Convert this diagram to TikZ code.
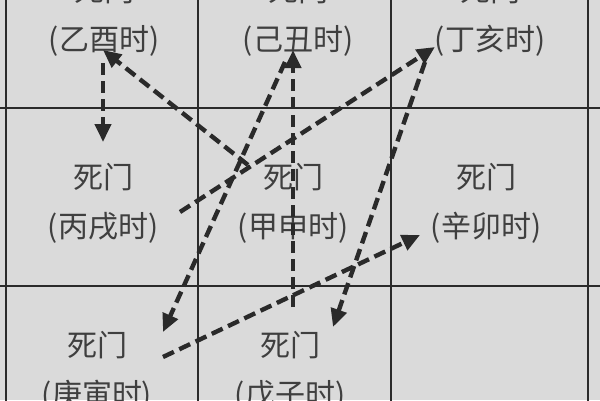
\documentclass[tikz,border=0pt]{standalone}
\usepackage{fontspec}
\newfontfamily\cjk{Noto Sans CJK SC}
\usetikzlibrary{arrows.meta}
\definecolor{paper}{HTML}{DADADA}
\definecolor{ink}{HTML}{2A2A2A}
\tikzset{gridline/.style={ink, line width=1.7pt},
 move/.style={ink, line width=4.4pt, dash pattern=on 12pt off 6pt, -{Triangle[length=18pt,width=16pt]}},
 every node/.style={text=ink!90, font=\cjk\fontsize{30}{49}\selectfont, align=center, inner sep=0pt}}

\begin{document}
\begin{tikzpicture}[x=1pt,y=-1pt]
  \fill[paper] (0,0) rectangle (600,400);
  \useasboundingbox (0,0) rectangle (600,400);
  \begin{scope}
   \clip (0,0) rectangle (600,400);
   \foreach \x in {6,198,391,588}
    \draw[gridline] (\x,-80) -- (\x,480);
   \foreach \y in {108,286}
    \draw[gridline] (0,\y) -- (600,\y);
   % the eight hours of the gate
   \node (yiyou)   at (104, 16) {死门\\(乙酉时)};
   \node (jichou)  at (298, 16) {死门\\(己丑时)};
   \node (dinghai) at (490, 16) {死门\\(丁亥时)};
   \node (bingxu)  at (103,203) {死门\\(丙戌时)};
   \node (jiashen) at (293,203) {死门\\(甲申时)};
   \node (xinmao)  at (486,203) {死门\\(辛卯时)};
   \node (gengyin) at ( 97,371) {死门\\(庚寅时)};
   \node (wuzi)    at (290,371) {死门\\(戊子时)};
  \end{scope}
  % ends of the moves
  \coordinate (a) at (248,165);
  \coordinate (b) at (103, 50);
  \coordinate (c) at (103, 63);
  \coordinate (d) at (103,142);
  \coordinate (e) at (180,212);
  \coordinate (f) at (435, 47);
  \coordinate (g) at (425, 62);
  \coordinate (h) at (333,327);
  \coordinate (i) at (293,307);
  \coordinate (j) at (293, 50);
  \coordinate (k) at (285, 62);
  \coordinate (l) at (163,332);
  \coordinate (m) at (163,357);
  \coordinate (n) at (420,235);
  \draw[move] (a) -- (b);
  \draw[move] (c) -- (d);
  \draw[move] (e) -- (f);
  \draw[move] (g) -- (h);
  \draw[move] (i) -- (j);
  \draw[move] (k) -- (l);
  \draw[move] (m) -- (n);
\end{tikzpicture}
\end{document}
